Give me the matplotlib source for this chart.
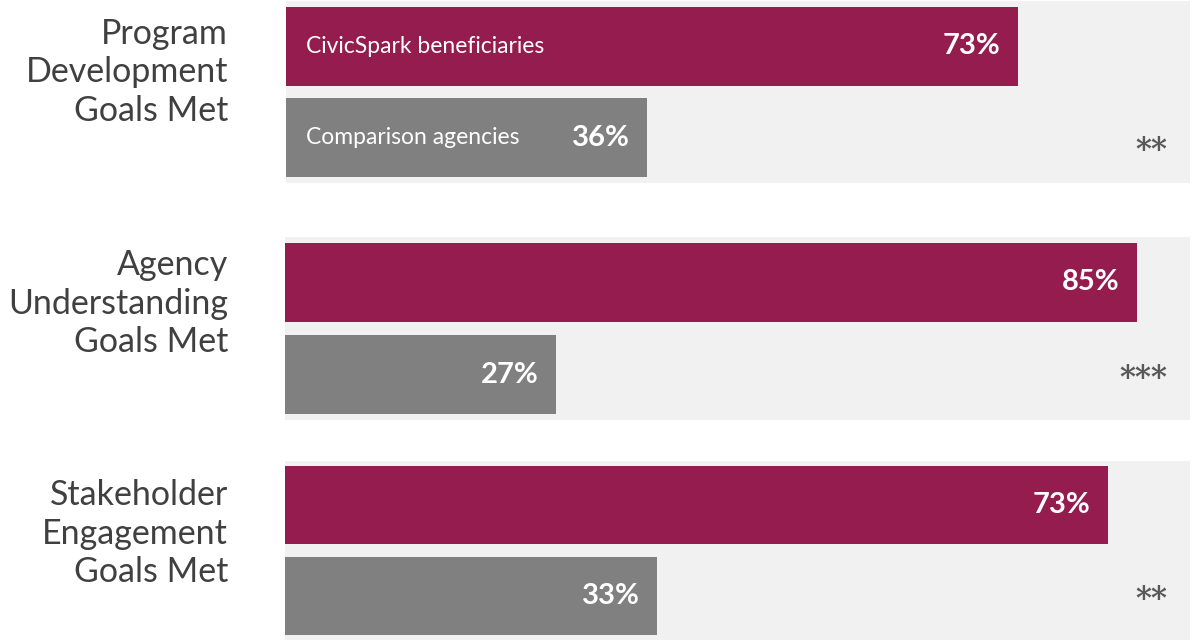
import matplotlib
matplotlib.use('Agg')
import matplotlib.pyplot as plt
from matplotlib.transforms import blended_transform_factory

# goals met, share of agencies (%)
groups = ['Program\nDevelopment\nGoals Met',
          'Agency\nUnderstanding\nGoals Met',
          'Stakeholder\nEngagement\nGoals Met']
civicspark = [73, 85, 73]
comparison = [36, 27, 33]
significance = ['**', '***', '**']
series_names = ['CivicSpark beneficiaries', 'Comparison agencies']

# x range of each panel (the third panel is drawn on a tighter scale)
xmax = [90.2, 90.3, 80.3]

CRIMSON = '#951C4E'
GREY = '#808080'
PANEL = '#F1F1F1'
LABEL = '#404040'
STAR = '#595959'

W, H = 1192, 643
fig = plt.figure(figsize=(W / 100, H / 100), dpi=100)

# panel boxes in pixels: left, top, right, bottom
panels = [(286, 1, 1190, 183), (285, 237, 1190, 420), (285, 461, 1190, 640)]
label_base = [121, 352, 582]
star_y = [1.14, 1.04, 1.04]

for i, (l, t, r, b) in enumerate(panels):
    ax = fig.add_axes([l / W, 1 - b / H, (r - l) / W, (b - t) / H])
    ax.set_facecolor(PANEL)
    vals = [civicspark[i], comparison[i]]
    ax.barh([0, 1], vals, height=0.86, color=[CRIMSON, GREY])
    ax.set_xlim(0, xmax[i])
    ax.set_ylim(1.49, -0.49)
    ax.set_xticks([])
    ax.set_yticks([])
    for s in ax.spines.values():
        s.set_visible(False)

    for y, v in zip([0, 1], vals):
        ax.annotate(f'{v}%', xy=(v, y), xytext=(-17, 0), textcoords='offset pixels',
                    ha='right', va='center', color='white', fontsize=21,
                    fontweight='bold', family='Lato')

    if i == 0:
        for y, name in zip([0, 1], series_names):
            ax.annotate(name, xy=(0, y), xytext=(20, 0), textcoords='offset pixels',
                        ha='left', va='center', color='white', fontsize=16.5,
                        family='Lato')

    tr = blended_transform_factory(ax.transAxes, ax.transData)
    ax.text(0.975, star_y[i], significance[i], transform=tr, ha='right', va='center',
            color=STAR, fontsize=22, fontweight='bold', family='DejaVu Serif')

    fig.text(228 / W, 1 - label_base[i] / H, groups[i], ha='right', va='baseline',
             color=LABEL, fontsize=24.5, family='Lato', linespacing=1.25)

fig.savefig('out.png', dpi=100)
